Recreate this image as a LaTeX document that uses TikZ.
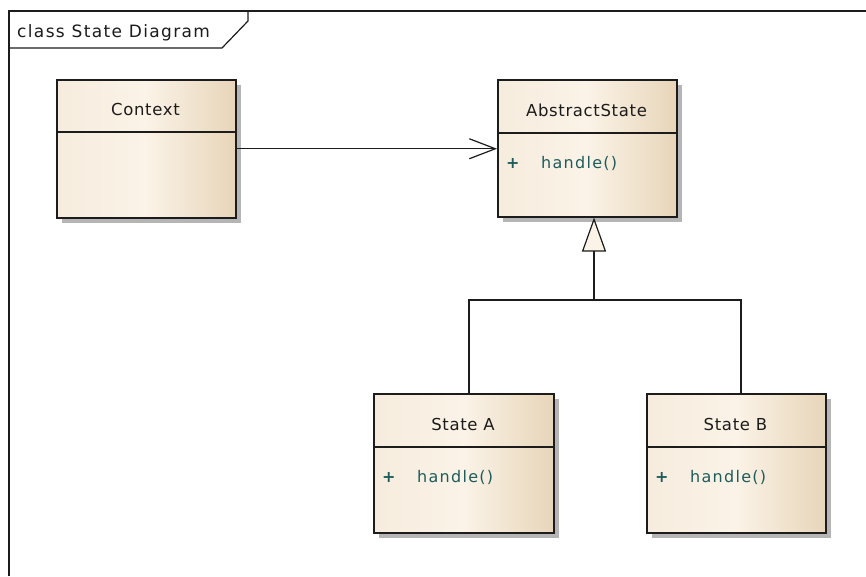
\documentclass[tikz,border=0pt]{standalone}
\usepackage{fontspec}
\setmainfont{DejaVu Sans}
\usetikzlibrary{arrows.meta,shadows}

\definecolor{boxleft}{HTML}{F6ECDE}
\definecolor{boxmid}{HTML}{FBF3E7}
\definecolor{boxright}{HTML}{E7D5B9}
\definecolor{shadowgray}{HTML}{B5B5B5}
\definecolor{ink}{HTML}{1C1C1C}
\definecolor{opteal}{HTML}{1E5C5C}

\tikzset{
  classbox/.style={draw=ink, line width=1.5pt, anchor=north west, inner sep=0pt,
    left color=boxleft, right color=boxright, middle color=boxmid,
    drop shadow={shadow xshift=5pt, shadow yshift=-5pt, fill=shadowgray, opacity=1}},
  divider/.style={draw=ink, line width=1.3pt},
  clsname/.style={font=\fontsize{16.5}{19}\selectfont\addfontfeature{LetterSpace=4}, text=ink, inner sep=0pt},
  opplus/.style={font=\fontsize{16}{19}\selectfont\bfseries, text=opteal, inner sep=0pt, anchor=base west},
  optext/.style={font=\fontsize{16}{19}\selectfont\addfontfeature{LetterSpace=8}, text=opteal, inner sep=0pt, anchor=base west},
  frame/.style={draw=ink, line width=1.2pt},
  assoc/.style={draw=ink, line width=1.2pt, -{Straight Barb[length=26pt, width=20pt, line width=1.2pt]}},
  gen/.style={draw=ink, line width=1.5pt},
  gentip/.style={draw=ink, line width=1.5pt, -{Triangle[length=34pt, width=24pt, fill=boxmid, line width=1.2pt]}},
}

\begin{document}
\begin{tikzpicture}[x=1pt, y=-1pt]
  \useasboundingbox (0,0) rectangle (866,576);
  \fill[white] (0,0) rectangle (866,576);

  % diagram frame and its name tab
  \draw[frame] (9,576) -- (9,11) -- (866,11);
  \draw[frame] (9,48) -- (222,48) -- (248,21) -- (248,11);
  \node[font=\fontsize{17}{20}\selectfont\addfontfeature{LetterSpace=8}, text=ink, inner sep=0pt, anchor=base west]
    (title) at (17,37) {class State Diagram};

  % Context
  \node[classbox, minimum width=179pt, minimum height=138pt] (ctx) at (56,79) {};
  \draw[divider] (ctx.west |- 0,132) -- (ctx.east |- 0,132);
  \node[clsname] (ctxname) at (145.5,109) {Context};

  % AbstractState
  \node[classbox, minimum width=179pt, minimum height=137pt] (abs) at (497,79) {};
  \draw[divider] (abs.west |- 0,133) -- (abs.east |- 0,133);
  \node[clsname] (absname) at (586.5,110) {AbstractState};
  \node[opplus] (absplus) at (506,168) {+};
  \node[optext] (absop) at (541,168) {handle()};

  % State A
  \node[classbox, minimum width=180pt, minimum height=139pt] (sa) at (373,393) {};
  \draw[divider] (sa.west |- 0,447) -- (sa.east |- 0,447);
  \node[clsname] (saname) at (463,424) {State A};
  \node[opplus] (saplus) at (382,482) {+};
  \node[optext] (saop) at (417,482) {handle()};

  % State B
  \node[classbox, minimum width=179pt, minimum height=139pt] (sb) at (646,393) {};
  \draw[divider] (sb.west |- 0,447) -- (sb.east |- 0,447);
  \node[clsname] (sbname) at (735.5,424) {State B};
  \node[opplus] (sbplus) at (655,482) {+};
  \node[optext] (sbop) at (690,482) {handle()};

  % association Context -> AbstractState
  \draw[assoc] (ctx.east) -- (ctx.east -| abs.west);

  % generalization tree
  \coordinate (ja) at (469,300);
  \coordinate (jm) at (594,300);
  \coordinate (jb) at (741,300);
  \draw[gen] (sa.north -| ja) -- (ja) -- (jb) -- (sb.north -| jb);
  \draw[gentip] (jm) -- (jm |- abs.south);
\end{tikzpicture}
\end{document}
